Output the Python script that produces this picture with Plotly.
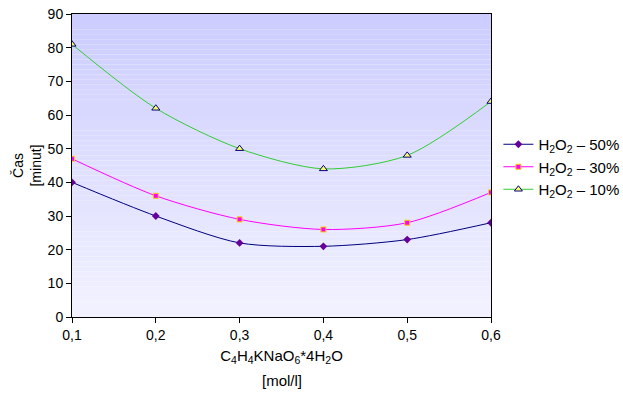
import plotly.graph_objects as go

x_vals = [0.1, 0.2, 0.3, 0.4, 0.5, 0.6]
x_labels = ["0,1", "0,2", "0,3", "0,4", "0,5", "0,6"]
h2o2_50 = [40, 30, 22, 21, 23, 28]
h2o2_30 = [47, 36, 29, 26, 28, 37]
h2o2_10 = [81, 62, 50, 44, 48, 64]
y_ticks = [0, 10, 20, 30, 40, 50, 60, 70, 80, 90]

fig = go.Figure()

fig.add_trace(go.Scatter(
    x=x_vals, y=h2o2_50, mode="lines+markers",
    name="H<sub>2</sub>O<sub>2</sub> – 50%",
    line=dict(color="#000080", width=1, shape="spline", smoothing=0.8),
    marker=dict(symbol="diamond", size=6, color="#660099", line=dict(width=0)),
))
fig.add_trace(go.Scatter(
    x=x_vals, y=h2o2_30, mode="lines+markers",
    name="H<sub>2</sub>O<sub>2</sub> – 30%",
    line=dict(color="#ff00ff", width=1, shape="spline", smoothing=0.8),
    marker=dict(symbol="square", size=5, color="#ff00ff", line=dict(width=1, color="#ffcc00")),
))
fig.add_trace(go.Scatter(
    x=x_vals, y=h2o2_10, mode="lines+markers",
    name="H<sub>2</sub>O<sub>2</sub> – 10%",
    line=dict(color="#33cc33", width=1, shape="spline", smoothing=0.8),
    marker=dict(symbol="triangle-up", size=7, color="#ffff66", line=dict(width=1, color="#000080")),
))

# gradient background
n = 60
top = (204, 204, 255)
bot = (242, 242, 255)
shapes = []
for i in range(n):
    t = i / (n - 1)
    c = tuple(round(top[k] + (bot[k] - top[k]) * t) for k in range(3))
    shapes.append(dict(
        type="rect", xref="x domain", yref="y domain",
        x0=0, x1=1, y0=1 - (i + 1) / n, y1=1 - i / n,
        fillcolor="rgb(%d,%d,%d)" % c, line=dict(width=0), layer="below",
    ))
fig.update_layout(shapes=shapes)

font = dict(family="Liberation Sans, Arial, sans-serif", size=14, color="#000000")

fig.update_layout(
    width=623, height=393,
    margin=dict(l=72, r=132, t=14, b=76, autoexpand=False),
    paper_bgcolor="white", plot_bgcolor="white",
    font=font,
    showlegend=True,
    legend=dict(xref="container", yref="container", x=0.8, y=(393 - 167) / 393,
                xanchor="left", yanchor="middle",
                bgcolor="rgba(0,0,0,0)", font=dict(size=15),
                tracegroupgap=0, itemwidth=30),
    xaxis=dict(
        range=[0.1, 0.6], tickvals=x_vals, ticktext=x_labels, automargin=False,
        showgrid=False, zeroline=False, showline=True, linecolor="black", linewidth=1,
        mirror=True, ticks="outside", ticklen=5, tickcolor="black",
        title=dict(text="C<sub>4</sub>H<sub>4</sub>KNaO<sub>6</sub>*4H<sub>2</sub>O",
                   font=dict(size=15), standoff=8),
    ),
    yaxis=dict(
        range=[0, 90], tickvals=y_ticks, automargin=False,
        showgrid=False, zeroline=False, showline=True, linecolor="black", linewidth=1,
        mirror=True, ticks="outside", ticklen=5, tickcolor="black",
        title=dict(text="Čas<br>[minut]", font=dict(size=14), standoff=2),
    ),
    annotations=[dict(
        text="[mol/l]", xref="x domain", yref="paper", x=0.5, y=-(380 - 317) / 303,
        xanchor="center", yanchor="middle", showarrow=False, font=dict(size=15),
    )],
)

fig.write_html("out.html", config={"displayModeBar": False},
               post_script="document.body.style.margin='0px';")
